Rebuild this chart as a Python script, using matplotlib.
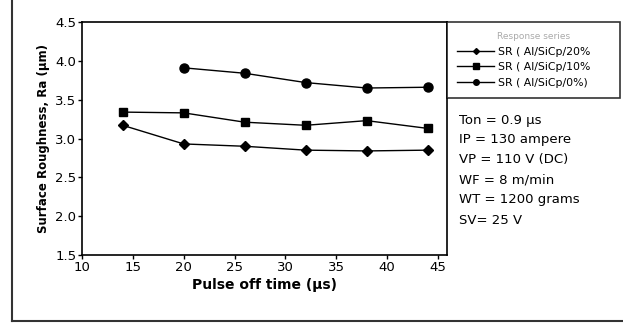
import matplotlib.pyplot as plt
from matplotlib.lines import Line2D

x = [14, 20, 26, 32, 38, 44]
sr20 = [3.17, 2.93, 2.90, 2.85, 2.84, 2.85]
sr10 = [3.34, 3.33, 3.21, 3.17, 3.23, 3.13]
x0 = [20, 26, 32, 38, 44]
sr0 = [3.91, 3.84, 3.72, 3.65, 3.66]
labels = ["SR ( Al/SiCp/20%", "SR ( Al/SiCp/10%", "SR ( Al/SiCp/0%)"]
params = ["Ton = 0.9 \u00b5s", "IP = 130 ampere", "VP = 110 V (DC)",
          "WF = 8 m/min", "WT = 1200 grams", "SV= 25 V"]

plt.rcParams['font.family'] = 'DejaVu Sans'
fig = plt.figure(figsize=(6.23, 3.23), dpi=100)
ax = fig.add_axes([82/623, 1 - 255/323, (447-82)/623, (255-22)/323])

ax.plot(x, sr20, color='black', lw=1, marker='D', ms=5)
ax.plot(x, sr10, color='black', lw=1, marker='s', ms=5.5)
ax.plot(x0, sr0, color='black', lw=1, marker='o', ms=6.5)

ax.set_xlim(10, 45.9)
ax.set_ylim(1.5, 4.5)
ax.set_xticks([10, 15, 20, 25, 30, 35, 40, 45])
ax.set_yticks([1.5, 2.0, 2.5, 3.0, 3.5, 4.0, 4.5])
ax.set_yticklabels(["1.5", "2.0", "2.5", "3.0", "3.5", "4.0", "4.5"])
ax.tick_params(direction='out', length=3, width=1, labelsize=9.5, pad=1)
for s in ax.spines.values():
    s.set_linewidth(1.2)
ax.set_xlabel("Pulse off time (\u00b5s)", fontsize=10, fontweight='bold', labelpad=3)
ax.set_ylabel("Surface Roughness, Ra (\u00b5m)", fontsize=8.5, fontweight='bold', labelpad=4)

# outer frame (left and bottom edges visible)
fig.add_artist(Line2D([12/623, 12/623], [1 - 321/323, 1.0], color='#333333', lw=1.5))
fig.add_artist(Line2D([12/623, 1.0], [1 - 321/323, 1 - 321/323], color='#333333', lw=1.5))

handles = [Line2D([], [], color='black', lw=1, marker=m, ms=s) for m, s in [('D', 3), ('s', 4), ('o', 4)]]
leg = fig.legend(handles, labels, loc='upper left',
                 bbox_to_anchor=(447/623, 1 - 100/323, 173/623, 78/323), mode='expand',
                 borderaxespad=0, title="Response series", fontsize=7.8, title_fontsize=6.5,
                 frameon=True, fancybox=False, edgecolor='black', handlelength=3.4,
                 borderpad=0.95, labelspacing=0.5, handletextpad=0.4)
leg.get_title().set_color('#aaaaaa')
leg.get_frame().set_linewidth(1.2)

for i, t in enumerate(params):
    fig.text(459/623, 1 - (120 + 20*i)/323, t, fontsize=9.5, va='center', ha='left')

fig.savefig("out.png", dpi=100)
